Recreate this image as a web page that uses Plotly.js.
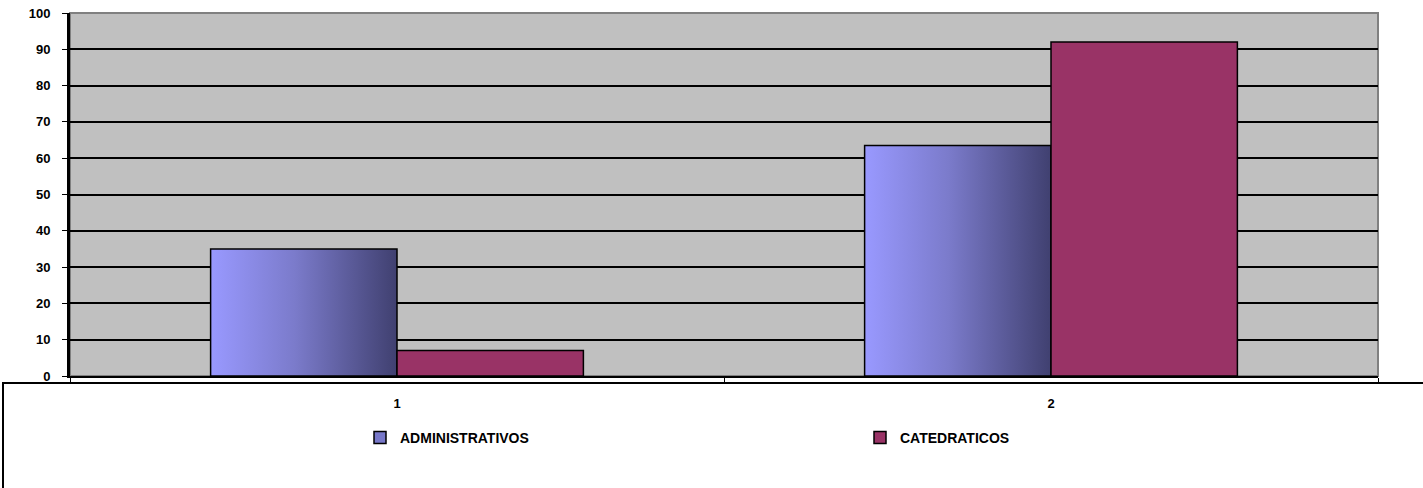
<!DOCTYPE html>
<html>
<head>
<meta charset="utf-8">
<script src="https://cdn.plot.ly/plotly-3.0.1.min.js"></script>
<style>
html,body{margin:0;padding:0;background:#fff;}
#chart{width:1423px;height:488px;}
</style>
</head>
<body>
<div id="chart"></div>
<script>
const categories = ['1', '2'];
const administrativos = [35, 63.5];
const catedraticos = [7, 92];
const seriesNames = ['ADMINISTRATIVOS', 'CATEDRATICOS'];
const yTicks = [0, 10, 20, 30, 40, 50, 60, 70, 80, 90, 100];

const font = {family: 'Arial, "Liberation Sans", sans-serif', color: '#000', size: 13, weight: 'bold'};

const traces = [
  {
    type: 'bar', name: seriesNames[0], x: categories, y: administrativos,
    marker: {color: '#7777C8', line: {color: '#000', width: 1.5}},
    hoverinfo: 'none'
  },
  {
    type: 'bar', name: seriesNames[1], x: categories, y: catedraticos,
    marker: {color: '#993366', line: {color: '#000', width: 1.5}},
    hoverinfo: 'none'
  }
];

const PW = 1423 - 70 - 45, PH = 488 - 13 - 112;

const layout = {
  width: 1423, height: 488,
  margin: {l: 70, r: 45, t: 13, b: 112, pad: 0},
  paper_bgcolor: '#ffffff',
  plot_bgcolor: '#C0C0C0',
  barmode: 'group',
  bargap: 0.43,
  bargroupgap: 0,
  font: font,
  showlegend: true,
  legend: {
    orientation: 'h', xref: 'paper', xanchor: 'left', yanchor: 'middle',
    x: (360 - 70) / PW, y: -62 / PH,
    font: {family: font.family, size: 14, weight: 'bold', color: '#000'},
    entrywidth: 455, entrywidthmode: 'pixels',
    bgcolor: 'rgba(0,0,0,0)', itemclick: false, itemdoubleclick: false
  },
  xaxis: {
    type: 'category', range: [-0.5, 1.5],
    showgrid: false, zeroline: false,
    showline: true, linecolor: '#000', linewidth: 2,
    ticks: 'outside', tickson: 'boundaries', ticklen: 4, tickcolor: '#000', tickwidth: 1,
    ticklabelstandoff: 14,
    tickfont: {family: font.family, size: 13, weight: 'bold', color: '#000'},
    fixedrange: true
  },
  yaxis: {
    range: [0, 100], tickvals: yTicks, ticktext: yTicks.map(String),
    showgrid: true, gridcolor: '#000', gridwidth: 2,
    zeroline: false,
    showline: true, linecolor: '#000', linewidth: 3,
    ticks: 'outside', ticklen: 5, tickcolor: '#000', tickwidth: 1,
    ticklabelstandoff: 9,
    tickfont: {family: font.family, size: 13, weight: 'bold', color: '#000'},
    fixedrange: true
  },
  shapes: [
    {type: 'rect', xref: 'paper', yref: 'paper', x0: 0, x1: 1, y0: 0, y1: 1,
     line: {color: '#808080', width: 2}, fillcolor: 'rgba(0,0,0,0)', layer: 'below'},
    {type: 'rect', xref: 'paper', yref: 'paper',
     x0: -67 / PW, x1: 1360 / PW, y0: -7 / PH, y1: -120 / PH,
     line: {color: '#000', width: 2}, fillcolor: 'rgba(0,0,0,0)'}
  ]
};

Plotly.newPlot('chart', traces, layout, {displayModeBar: false, staticPlot: true}).then(function (gd) {
  const svg = gd.querySelector('svg.main-svg');
  const ns = 'http://www.w3.org/2000/svg';
  let defs = svg.querySelector('defs');
  if (!defs) { defs = document.createElementNS(ns, 'defs'); svg.insertBefore(defs, svg.firstChild); }
  const grad = document.createElementNS(ns, 'linearGradient');
  grad.setAttribute('id', 'adminGrad');
  grad.setAttribute('x1', '0'); grad.setAttribute('y1', '0');
  grad.setAttribute('x2', '1'); grad.setAttribute('y2', '0');
  [['0', '#9999FF'], ['0.45', '#7B7BCB'], ['1', '#404070']].forEach(function (s) {
    const st = document.createElementNS(ns, 'stop');
    st.setAttribute('offset', s[0]); st.setAttribute('stop-color', s[1]);
    grad.appendChild(st);
  });
  defs.appendChild(grad);
  const barTraces = gd.querySelectorAll('.barlayer .trace.bars');
  if (barTraces.length) {
    barTraces[0].querySelectorAll('path').forEach(function (p) {
      p.style.fill = 'url(#adminGrad)';
    });
  }
});
</script>
</body>
</html>
